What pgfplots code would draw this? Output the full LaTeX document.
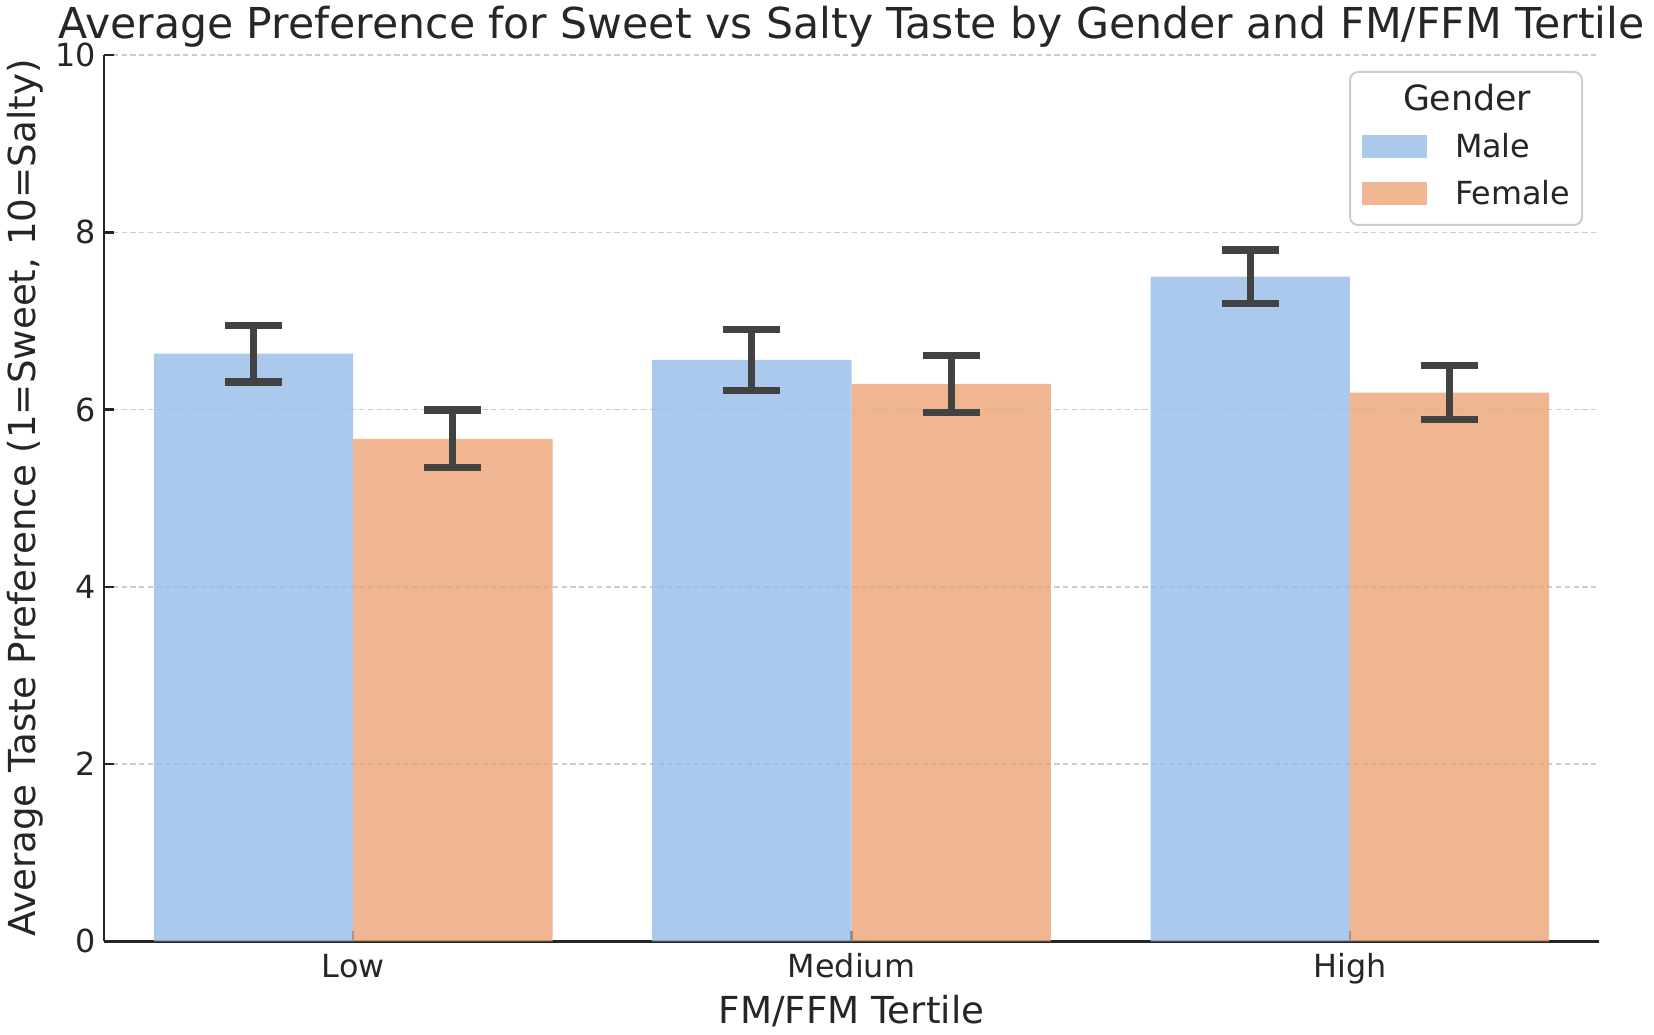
\documentclass[border=0pt]{standalone}
\usepackage{fontspec}
\setmainfont{DejaVu Sans}
\usepackage{pgfplots}
\pgfplotsset{compat=1.18}
\definecolor{maleC}{RGB}{150,188,231}
\definecolor{femaleC}{RGB}{235,164,118}
\definecolor{errC}{RGB}{66,66,66}
\definecolor{txtC}{RGB}{38,38,38}
\definecolor{gridC}{RGB}{204,204,204}
\begin{document}
\begin{tikzpicture}
\begin{axis}[
  name=ax,
  scale only axis,
  width=747.5pt, height=443.15pt,
  xmin=-0.5, xmax=2.5, ymin=0, ymax=10,
  ybar, bar width=0.4,
  axis lines*=left,
  axis line style={line width=1.3pt, color=txtC},
  xtick={0,1,2}, xticklabels={Low,Medium,High},
  ytick={0,2,4,6,8,10},
  tick align=inside,
  major tick length=5pt,
  tick style={line width=1.25pt, color=txtC},
  ymajorgrids,
  grid style={gridC, line width=0.75pt, dash pattern=on 2.6pt off 1.8pt},
  /pgf/number format/assume math mode=true,
  ticklabel style={font=\fontsize{15.9}{19}\selectfont, text=txtC},
  yticklabel style={anchor=east, inner sep=0pt, xshift=-4pt},
  xticklabel style={anchor=base, inner sep=0pt, yshift=-18pt},
  title={Average Preference for Sweet vs Salty Taste by Gender and FM/FFM Tertile},
  title style={at={(0.5,1)}, anchor=base, yshift=2.1pt, inner sep=0pt, font=\fontsize{21.3}{25}\selectfont, text=txtC},
  xlabel={FM/FFM Tertile},
  xlabel style={at={(axis description cs:0.5,-0.0926)}, anchor=base, inner sep=0pt, font=\fontsize{18.6}{22}\selectfont, text=txtC},
  ylabel={Average Taste Preference (1=Sweet, 10=Salty)},
  ylabel style={at={(axis description cs:-0.0455,0.5)}, anchor=base, inner sep=0pt, font=\fontsize{18.6}{22}\selectfont, text=txtC},
  error bars/y dir=both,
  error bars/y explicit,
  error bars/error bar style={draw=errC, line width=3.6pt},
  error bars/error mark=|,
  error bars/error mark options={draw=errC, line width=3.6pt, mark size=14.25pt},
  legend cell align=left,
  legend style={at={(1,1)}, anchor=north east, xshift=-8pt, yshift=-8pt,
    draw=gridC, line width=1pt, rounded corners=4pt, fill=white,
    inner xsep=6pt, inner ysep=3pt, row sep=0pt,
    nodes={inner sep=0pt, text height=16.5pt, text depth=7pt, text=txtC, font=\fontsize{15.9}{19}\selectfont}},
]
\addlegendimage{empty legend}
\addlegendentry{\fontsize{17.4}{20}\selectfont\hspace*{-26pt}Gender}
\addplot[bar shift=-0.2, fill=maleC, fill opacity=0.8, draw=none,
  legend image code/.code={\path[fill=none, draw=none] (0pt,-4.75pt) -- (46.5pt,-4.75pt); \fill[maleC, fill opacity=0.8, sharp corners] (0pt,-4.75pt) rectangle (32.5pt,6.75pt);}]
  coordinates {(0,6.63) +- (0,0.32) (1,6.56) +- (0,0.345) (2,7.50) +- (0,0.30)};
\addlegendentry{Male}
\addplot[bar shift=0.2, fill=femaleC, fill opacity=0.8, draw=none,
  legend image code/.code={\path[fill=none, draw=none] (0pt,-4.75pt) -- (46.5pt,-4.75pt); \fill[femaleC, fill opacity=0.8, sharp corners] (0pt,-4.75pt) rectangle (32.5pt,6.75pt);}]
  coordinates {(0,5.67) +- (0,0.325) (1,6.29) +- (0,0.32) (2,6.19) +- (0,0.305)};
\addlegendentry{Female}
\end{axis}
\pgfresetboundingbox
\path[use as bounding box] ([xshift=-52pt,yshift=-46.35pt]ax.south west) rectangle ([xshift=27.5pt,yshift=27.5pt]ax.north east);
\end{tikzpicture}
\end{document}
